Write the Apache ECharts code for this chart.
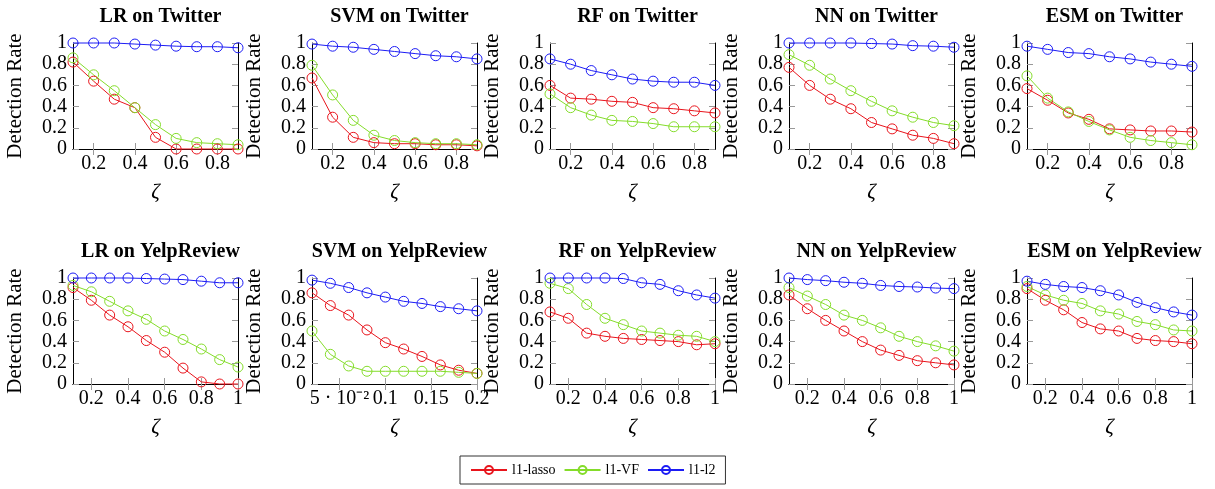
<!DOCTYPE html>
<html>
<head>
<meta charset="utf-8">
<title>Detection rate vs zeta</title>
<script src="https://cdn.jsdelivr.net/npm/echarts@6/dist/echarts.min.js"></script>
<style>
  html, body { margin: 0; padding: 0; background: #fff; }
  #chart { width: 1215px; height: 489px; }
</style>
</head>
<body>
<div id="chart"></div>
<script>
// x values
const xTwitter = [0.1, 0.2, 0.3, 0.4, 0.5, 0.6, 0.7, 0.8, 0.9];
const xYelp = [0.1, 0.2, 0.3, 0.4, 0.5, 0.6, 0.7, 0.8, 0.9, 1.0];
const xSvmYelp = [0.02, 0.04, 0.06, 0.08, 0.1, 0.12, 0.14, 0.16, 0.18, 0.2];

// tick labels
const ticksTwitter = [0.2, 0.4, 0.6, 0.8];
const ticksYelp = [0.2, 0.4, 0.6, 0.8, 1];
const ticksSvmYelp = [0.05, 0.1, 0.15, 0.2];
const yTicks = [0, 0.2, 0.4, 0.6, 0.8, 1];

const seriesNames = ['l1-lasso', 'l1-VF', 'l1-l2'];
const titles = ['LR on Twitter', 'SVM on Twitter', 'RF on Twitter', 'NN on Twitter', 'ESM on Twitter',
  'LR on YelpReview', 'SVM on YelpReview', 'RF on YelpReview', 'NN on YelpReview', 'ESM on YelpReview'];

// Twitter: l1-lasso / l1-VF / l1-l2
const lrTwLasso = [0.82, 0.64, 0.47, 0.39, 0.11, 0, 0, 0, 0];
const lrTwVF = [0.86, 0.70, 0.55, 0.39, 0.23, 0.10, 0.06, 0.05, 0.04];
const lrTwL2 = [1, 1, 1, 0.99, 0.98, 0.97, 0.965, 0.965, 0.955];

const svmTwLasso = [0.67, 0.30, 0.11, 0.06, 0.05, 0.05, 0.04, 0.04, 0.03];
const svmTwVF = [0.79, 0.51, 0.27, 0.13, 0.08, 0.06, 0.05, 0.05, 0.04];
const svmTwL2 = [0.99, 0.97, 0.96, 0.94, 0.92, 0.90, 0.88, 0.87, 0.85];

const rfTwLasso = [0.60, 0.48, 0.47, 0.45, 0.44, 0.39, 0.38, 0.36, 0.34];
const rfTwVF = [0.52, 0.39, 0.32, 0.27, 0.26, 0.24, 0.21, 0.21, 0.21];
const rfTwL2 = [0.85, 0.80, 0.74, 0.70, 0.66, 0.64, 0.63, 0.63, 0.60];

const nnTwLasso = [0.77, 0.60, 0.47, 0.38, 0.25, 0.19, 0.13, 0.10, 0.05];
const nnTwVF = [0.89, 0.79, 0.66, 0.55, 0.45, 0.36, 0.30, 0.25, 0.22];
const nnTwL2 = [1, 1, 1, 1, 0.995, 0.99, 0.975, 0.97, 0.96];

const esmTwLasso = [0.57, 0.46, 0.34, 0.28, 0.19, 0.18, 0.17, 0.17, 0.16];
const esmTwVF = [0.69, 0.48, 0.35, 0.26, 0.18, 0.11, 0.08, 0.06, 0.04];
const esmTwL2 = [0.97, 0.94, 0.91, 0.90, 0.87, 0.85, 0.82, 0.80, 0.78];

// YelpReview
const lrYpLasso = [0.91, 0.79, 0.65, 0.54, 0.41, 0.30, 0.15, 0.02, 0, 0];
const lrYpVF = [0.93, 0.87, 0.78, 0.69, 0.61, 0.50, 0.42, 0.33, 0.23, 0.16];
const lrYpL2 = [1, 1, 1, 1, 0.995, 0.99, 0.985, 0.97, 0.955, 0.955];

const svmYpLasso = [0.86, 0.74, 0.65, 0.51, 0.39, 0.33, 0.26, 0.18, 0.13, 0.10];
const svmYpVF = [0.50, 0.28, 0.17, 0.12, 0.12, 0.12, 0.12, 0.12, 0.11, 0.10];
const svmYpL2 = [0.98, 0.95, 0.91, 0.86, 0.82, 0.78, 0.76, 0.73, 0.71, 0.69];

const rfYpLasso = [0.68, 0.62, 0.48, 0.45, 0.43, 0.42, 0.41, 0.40, 0.37, 0.38];
const rfYpVF = [0.95, 0.90, 0.75, 0.62, 0.56, 0.50, 0.48, 0.46, 0.45, 0.40];
const rfYpL2 = [1, 1, 1, 1, 0.995, 0.955, 0.94, 0.88, 0.84, 0.81];

const nnYpLasso = [0.84, 0.71, 0.60, 0.50, 0.40, 0.32, 0.27, 0.22, 0.20, 0.18];
const nnYpVF = [0.91, 0.83, 0.75, 0.65, 0.60, 0.53, 0.45, 0.40, 0.36, 0.31];
const nnYpL2 = [1, 0.985, 0.975, 0.96, 0.95, 0.93, 0.92, 0.915, 0.905, 0.90];

const esmYpLasso = [0.90, 0.79, 0.70, 0.58, 0.52, 0.50, 0.43, 0.41, 0.40, 0.38];
const esmYpVF = [0.92, 0.84, 0.79, 0.76, 0.69, 0.66, 0.59, 0.56, 0.51, 0.50];
const esmYpL2 = [0.97, 0.94, 0.92, 0.91, 0.88, 0.84, 0.77, 0.72, 0.68, 0.65];

const panels = [
  { x: xTwitter, ticks: ticksTwitter, data: [lrTwLasso, lrTwVF, lrTwL2] },
  { x: xTwitter, ticks: ticksTwitter, data: [svmTwLasso, svmTwVF, svmTwL2] },
  { x: xTwitter, ticks: ticksTwitter, data: [rfTwLasso, rfTwVF, rfTwL2] },
  { x: xTwitter, ticks: ticksTwitter, data: [nnTwLasso, nnTwVF, nnTwL2] },
  { x: xTwitter, ticks: ticksTwitter, data: [esmTwLasso, esmTwVF, esmTwL2] },
  { x: xYelp, ticks: ticksYelp, data: [lrYpLasso, lrYpVF, lrYpL2] },
  { x: xSvmYelp, ticks: ticksSvmYelp, data: [svmYpLasso, svmYpVF, svmYpL2] },
  { x: xYelp, ticks: ticksYelp, data: [rfYpLasso, rfYpVF, rfYpL2] },
  { x: xYelp, ticks: ticksYelp, data: [nnYpLasso, nnYpVF, nnYpL2] },
  { x: xYelp, ticks: ticksYelp, data: [esmYpLasso, esmYpVF, esmYpL2] }
];

const colors = ['#e8141c', '#84dc2a', '#1c1cf4'];
const FONT = 'Liberation Serif';
const colLeft = [73, 312, 550, 789, 1027];
const rowTop = [43, 278];
const W = 165, H = 106;

function fmtX(v) {
  if (Math.abs(v - 0.05) < 1e-9) return '5 · 10⁻²';
  return String(+v.toFixed(2));
}

let grid = [], xAxis = [], yAxis = [], series = [], title = [];
panels.forEach((p, i) => {
  const left = colLeft[i % 5], top = rowTop[Math.floor(i / 5)];
  grid.push({ left: left, top: top, width: W, height: H });
  title.push({
    text: titles[i], left: left + W / 2, top: top - 41, textAlign: 'center',
    textStyle: { fontFamily: FONT, fontWeight: 'bold', fontSize: 20, color: '#000' }
  });
  const xMin = p.x[0], xMax = p.x[p.x.length - 1];
  const frame = { show: true, lineStyle: { color: '#000', width: 1 } };
  const tick = { show: true, inside: true, length: 6, lineStyle: { color: '#999' } };
  // bottom x axis
  xAxis.push({
    type: 'value', gridIndex: i, min: xMin, max: xMax, position: 'bottom',
    axisLine: frame, splitLine: { show: false },
    axisTick: Object.assign({ customValues: p.ticks }, tick),
    axisLabel: { customValues: p.ticks, formatter: fmtX, fontFamily: FONT, fontSize: 20, color: '#000', margin: 5 },
    name: 'ζ', nameLocation: 'middle', nameGap: 33,
    nameTextStyle: { fontFamily: FONT, fontStyle: 'italic', fontSize: 21, color: '#000' }
  });
  // top frame
  xAxis.push({
    type: 'value', gridIndex: i, min: xMin, max: xMax, position: 'top',
    axisLine: frame, splitLine: { show: false },
    axisTick: Object.assign({ customValues: p.ticks }, tick),
    axisLabel: { show: false }
  });
  yAxis.push({
    type: 'value', gridIndex: i, min: 0, max: 1, position: 'left',
    axisLine: frame, splitLine: { show: false },
    axisTick: Object.assign({ customValues: yTicks }, tick),
    axisLabel: { customValues: yTicks, fontFamily: FONT, fontSize: 20, color: '#000', margin: 6 },
    name: 'Detection Rate', nameLocation: 'middle', nameGap: 47, nameRotate: 90,
    nameTextStyle: { fontFamily: FONT, fontSize: 21, color: '#000' }
  });
  yAxis.push({
    type: 'value', gridIndex: i, min: 0, max: 1, position: 'right',
    axisLine: frame, splitLine: { show: false },
    axisTick: Object.assign({ customValues: yTicks }, tick),
    axisLabel: { show: false }
  });
  p.data.forEach((vals, k) => {
    series.push({
      name: seriesNames[k], type: 'line',
      xAxisIndex: i * 2, yAxisIndex: i * 2,
      data: p.x.map((xv, j) => [xv, vals[j]]),
      symbol: 'circle', symbolSize: 10,
      itemStyle: { color: 'rgba(0,0,0,0)', borderColor: colors[k], borderWidth: 1 },
      lineStyle: { color: colors[k], width: 1 },
      emphasis: { disabled: true },
      clip: false
    });
  });
});

const chart = echarts.init(document.getElementById('chart'));
chart.setOption({
  animation: false,
  title: title,
  grid: grid,
  xAxis: xAxis,
  yAxis: yAxis,
  series: series,
  legend: {
    data: seriesNames, left: 460, top: 456,
    orient: 'horizontal', itemWidth: 36, itemHeight: 10, itemGap: 8,
    padding: [7, 10], borderColor: '#333', borderWidth: 1,
    textStyle: { fontFamily: FONT, fontSize: 14, color: '#000' },
    selectedMode: false
  }
});
</script>
</body>
</html>
